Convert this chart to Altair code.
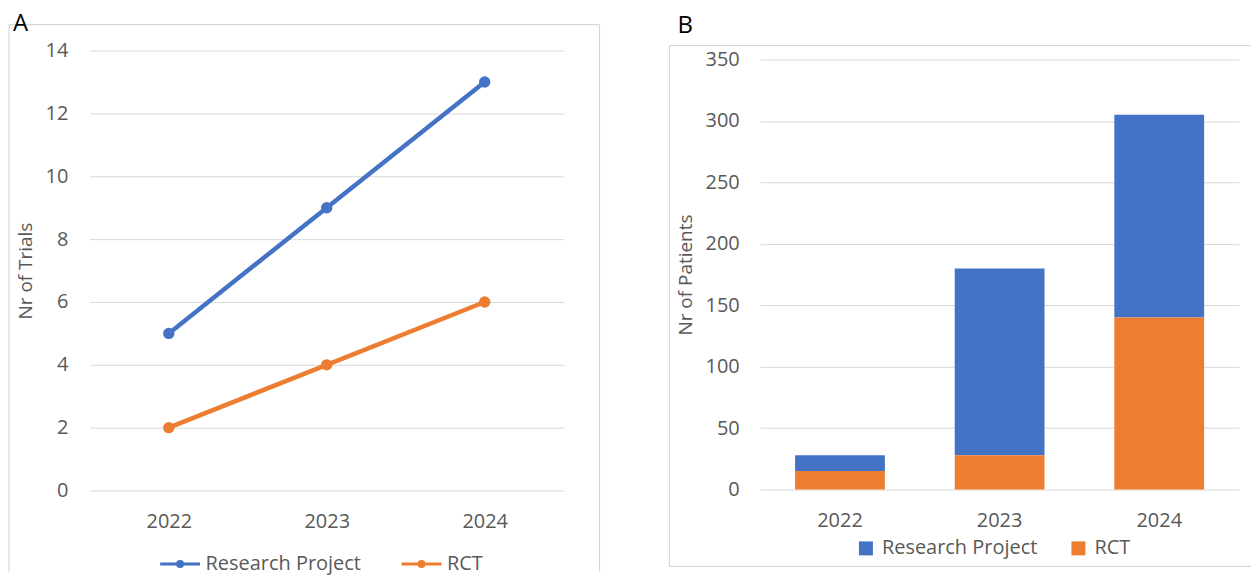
import altair as alt
import pandas as pd

years = ["2022", "2023", "2024"]
series = ["Research Project", "RCT"]
colors = ["#4472C4", "#ED7D31"]
trials_research = [5, 9, 13]
trials_rct = [2, 4, 6]
patients_research = [13, 152, 165]
patients_rct = [15, 28, 140]

FONT = "Open Sans"
GRID = "#D9D9D9"
LABEL = "#595959"
FRAME = "#D0D0D0"

rows_a = []
for yr, v in zip(years, trials_research):
    rows_a.append({"year": yr, "series": "Research Project", "value": v})
for yr, v in zip(years, trials_rct):
    rows_a.append({"year": yr, "series": "RCT", "value": v})
df_a = pd.DataFrame(rows_a)

rows_b = []
for yr, v in zip(years, patients_research):
    rows_b.append({"year": yr, "series": "Research Project", "value": v, "ord": 1})
for yr, v in zip(years, patients_rct):
    rows_b.append({"year": yr, "series": "RCT", "value": v, "ord": 0})
df_b = pd.DataFrame(rows_b)

one = pd.DataFrame({"k": [0]})

W_A, H_A = 475, 441
W_B, H_B = 480, 440
B_TOP = 9  # panel B plot starts a little lower than panel A


def rule(x1, y1, x2, y2):
    return alt.Chart(one).mark_rule(color=FRAME, strokeWidth=1).encode(
        x=alt.value(x1), y=alt.value(y1), x2=alt.value(x2), y2=alt.value(y2)
    )


line_sym = "M-1,0L1,0M0.125,0A0.125,0.125,0,1,1,-0.125,0A0.125,0.125,0,1,1,0.125,0Z"

lines = alt.Chart(df_a).mark_line(
    strokeWidth=4.5, point=alt.OverlayMarkDef(size=130, filled=True)
).encode(
    x=alt.X(
        "year:N",
        scale=alt.Scale(type="point", padding=0.5),
        axis=alt.Axis(
            title=None, labelAngle=0, labelPadding=21, domain=False, ticks=False,
            grid=False, labelFontSize=20, labelColor=LABEL,
        ),
    ),
    y=alt.Y(
        "value:Q",
        scale=alt.Scale(domain=[0, 14], nice=False),
        axis=alt.Axis(
            values=list(range(0, 15, 2)), title="Nr of Trials", titlePadding=10,
            labelPadding=22, domain=False, ticks=False, gridColor=GRID,
            labelFontSize=20, labelColor=LABEL, titleFontSize=19,
            titleColor=LABEL, titleFontWeight="normal",
        ),
    ),
    color=alt.Color(
        "series:N",
        scale=alt.Scale(domain=series, range=colors),
        legend=alt.Legend(
            title=None, orient="none", direction="horizontal", legendX=69, legendY=493,
            symbolType=line_sym, symbolSize=1600, symbolStrokeWidth=3,
            labelFontSize=20, labelColor=LABEL, columnPadding=34, labelOffset=4,
        ),
    ),
)

letter_a = alt.Chart(one).mark_text(
    text="A", fontSize=24, align="left", baseline="alphabetic", color="black"
).encode(x=alt.value(-77), y=alt.value(-20))

chart_a = alt.layer(
    rule(-81, -26, -81, 522),
    rule(-81, -26, 511, -26),
    rule(511, -26, 511, 522),
    lines,
    letter_a,
).properties(width=W_A, height=H_A)

bars = alt.Chart(df_b).mark_bar().encode(
    x=alt.X(
        "year:N",
        scale=alt.Scale(paddingInner=0.4375, paddingOuter=0.21875),
        axis=alt.Axis(
            title=None, labelAngle=0, labelPadding=21, domain=False, ticks=False,
            grid=False, labelFontSize=20, labelColor=LABEL,
        ),
    ),
    y=alt.Y(
        "value:Q",
        stack="zero",
        scale=alt.Scale(domain=[0, 350], nice=False, range=[H_B, B_TOP]),
        axis=alt.Axis(
            values=list(range(0, 351, 50)), title="Nr of Patients", titlePadding=10,
            labelPadding=21, domain=False, ticks=False, gridColor=GRID,
            labelFontSize=20, labelColor=LABEL, titleFontSize=19,
            titleColor=LABEL, titleFontWeight="normal",
        ),
    ),
    color=alt.Color(
        "series:N",
        scale=alt.Scale(domain=series, range=colors),
        legend=alt.Legend(
            title=None, orient="none", direction="horizontal", legendX=96, legendY=489,
            symbolType="square", symbolSize=196, symbolStrokeWidth=0,
            labelFontSize=20, labelColor=LABEL, columnPadding=31, labelOffset=6,
        ),
    ),
    order=alt.Order("ord:Q", sort="ascending"),
)

letter_b = alt.Chart(one).mark_text(
    text="B", fontSize=24, align="left", baseline="alphabetic", color="black"
).encode(x=alt.value(-83), y=alt.value(-18))

chart_b = alt.layer(
    rule(-91, -5, -91, 517),
    rule(-91, -5, 492, -5),
    rule(-91, 517, 492, 517),
    bars,
    letter_b,
).properties(width=W_B, height=H_B)

chart = (
    alt.hconcat(chart_a, chart_b, spacing=68)
    .resolve_scale(color="independent", x="independent", y="independent")
    .resolve_legend(color="independent")
    .properties(padding={"left": 0, "top": 2, "right": 0, "bottom": 0})
    .configure(font=FONT)
    .configure_view(stroke="transparent")
)

chart.save("out.html", embed_options={"renderer": "svg", "actions": False})
